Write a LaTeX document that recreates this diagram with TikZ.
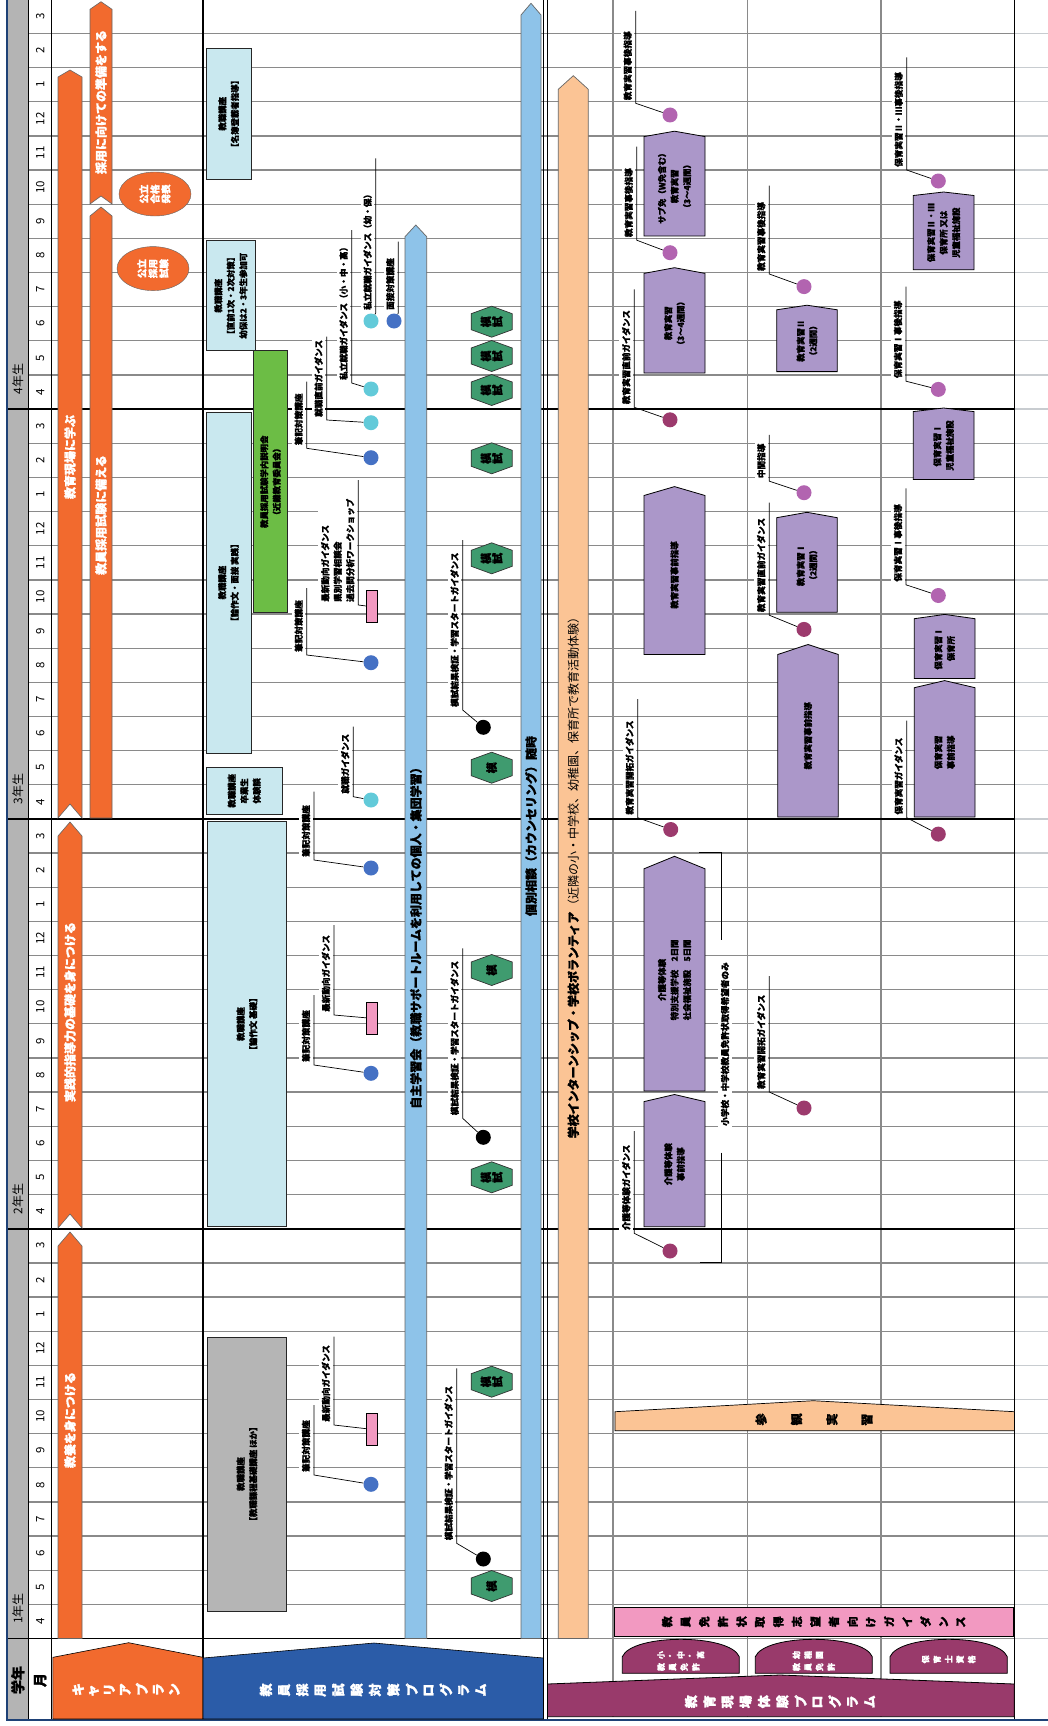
\documentclass[tikz,border=0pt]{standalone}
\usepackage{fontspec}
\setmainfont{Noto Sans CJK JP}[BoldFeatures={FakeBold=1.3}]
\usepackage{graphicx}
\usetikzlibrary{calc,shapes.geometric}

\definecolor{careerorange}{HTML}{F26A2E}
\definecolor{adoptblue}{HTML}{2B5CA8}
\definecolor{expmagenta}{HTML}{993A6B}
\definecolor{barblue}{HTML}{8EC3E9}
\definecolor{peach}{HTML}{FBC495}
\definecolor{boxcyan}{HTML}{C9E8EF}
\definecolor{boxgray}{HTML}{B5B5B5}
\definecolor{lecgreen}{HTML}{6CBD45}
\definecolor{hexgreen}{HTML}{3F9B6F}
\definecolor{lavender}{HTML}{AB97C9}
\definecolor{dotblue}{HTML}{4571C4}
\definecolor{dotcyan}{HTML}{62CAD9}
\definecolor{dotpurple}{HTML}{B264B0}
\definecolor{dotdark}{HTML}{9C3A6D}
\definecolor{tagpink}{HTML}{F299C1}
\definecolor{gridgray}{HTML}{8A8A8A}
\definecolor{gridpale}{HTML}{C8CCD0}
\definecolor{yeargray}{HTML}{B4B4B4}

% vertical writing: one glyph after another, each turned
\newdimen\tatesep
\newcommand\tate[2][0pt]{\tatesep=#1\relax\tateloop#2\relax}
\def\tateloop#1{\ifx\relax#1\kern-\tatesep\else\rotatebox[origin=c]{90}{#1}\kern\tatesep\expandafter\tateloop\fi}

% label with a leader line down to its dot
\newcommand\callout[6]{%
  \coordinate (#1t) at (#2,#3);
  \coordinate (#1b) at (#2,#4);
  \node[lbl, anchor=south west] (#1) at ($(#1b)+(-1.2,-2)$) {#6};
  \draw[leader] (#1t) -- (#1b) -- (#5);
}
% box with a pointed top
\newcommand\housebox[8]{%
  \draw[#2] (#3,#7) -- (#3,#6) -- ({(#3+#4)/2},#5) -- (#4,#6) -- (#4,#7) -- cycle;
  \node[boxtxt] (#1) at ({(#3+#4)/2},{(#6+#7)/2}) {#8};
}
% mock exam hexagon
\newcommand\mohex[4]{%
  \draw[hexmo] (#2,#3) ++(0,-15.5) -- ++(20.5,7.5) -- ++(0,16) -- ++(-20.5,7.5) -- ++(-20.5,-7.5) -- ++(0,-16) -- cycle;
  \node[hextxt] (#1) at (#2,#3) {\tate[1pt]{#4}};
}

\tikzset{
  gridln/.style={gridgray, line width=1.3pt},
  gridext/.style={gridpale, line width=1.3pt},
  yearln/.style={black, line width=1.6pt},
  border/.style={black, line width=1.1pt},
  lbl/.style={rotate=90, fill=white, inner xsep=1pt, inner ysep=2.5pt, align=left, font=\fontsize{8.6}{12.5}\selectfont\bfseries},
  leader/.style={black, line width=0.7pt},
  dot/.style={circle, minimum size=15pt, inner sep=0pt},
  tag/.style={draw=black, line width=0.6pt, fill=tagpink, minimum width=11pt, minimum height=32pt, inner sep=0pt},
  lecbox/.style={draw=black!85, line width=0.8pt, fill=boxcyan},
  boxtxt/.style={rotate=90, align=center, font=\fontsize{8.4}{12.5}\selectfont\bfseries},
  houseshape/.style={draw=black, line width=0.8pt, fill=lavender},
  hexmo/.style={draw=black!80, line width=0.7pt, fill=hexgreen},
  hextxt/.style={font=\fontsize{11}{12}\selectfont\bfseries},
  careerbar/.style={draw=black!60, line width=0.6pt, fill=careerorange},
  careertxt/.style={rotate=90, text=white, font=\fontsize{12}{14}\selectfont\bfseries},
  longbar/.style={draw=black!60, line width=0.7pt},
  bartxt/.style={rotate=90, font=\fontsize{12}{14}\selectfont\bfseries},
  oval/.style={ellipse, draw=black!60, fill=careerorange, minimum width=44pt, minimum height=72pt, inner sep=0pt, rotate=90, align=center, text=white, font=\fontsize{9.5}{11}\selectfont\bfseries},
  monthlbl/.style={rotate=90, font=\fontsize{11.5}{12}\selectfont},
  headtxt/.style={font=\fontsize{13}{13}\selectfont\bfseries, text=white},
  domeshape/.style={draw=black, line width=0.8pt, fill=expmagenta},
  dometxt/.style={align=left, text=white, font=\fontsize{8}{12}\selectfont\bfseries}
}

\begin{document}
\begin{tikzpicture}[x=1pt,y=-1pt]
%%%%% START %%%%%
\useasboundingbox (0,0) rectangle (1048,1726);
\fill[white] (0,0) rectangle (1048,1726);

\fill[yeargray] (7,0) rectangle (28.6,1719);
\foreach \k in {1,...,47}{
  \draw[gridln] (28.6,{1638.5-34.15*\k}) -- (1014.5,{1638.5-34.15*\k});
  \draw[gridext] (1014.5,{1638.5-34.15*\k}) -- (1048,{1638.5-34.15*\k});
}
\foreach \gx in {613,747.3,881}{
  \draw[gridln] (\gx,0) -- (\gx,1717);
}
\draw[gridln] (547,1638.5) -- (1014.5,1638.5);
\draw[gridext] (1014.5,1638.5) -- (1048,1638.5);
\draw[yearln] (7,1638.5) -- (547,1638.5);
\foreach \k in {12,24,36}{
  \draw[yearln] (7,{1638.5-34.15*\k}) -- (1014.5,{1638.5-34.15*\k});
  \draw[gridext] (1014.5,{1638.5-34.15*\k}) -- (1048,{1638.5-34.15*\k});
}

\foreach \k in {0,...,47}{
  \pgfmathtruncatemacro\mon{mod(\k+3,12)+1}
  \node[monthlbl] (m\k) at (40.2,{1638.5-34.15*(\k+0.5)}) {\mon};
}
\foreach \yr in {1,...,4}{
  \node[monthlbl, font=\fontsize{12}{12}\selectfont] (yr\yr) at (17.8,{1638.5-34.15*12*(\yr-1)-30}) {\yr 年生};
}
\node[monthlbl, font=\fontsize{14}{14}\selectfont\bfseries] (hyear) at (17.8,1680) {学年};
\node[monthlbl, font=\fontsize{14}{14}\selectfont\bfseries] (hmonth) at (40.2,1680) {月};

\draw[border] (28.6,0) -- (28.6,1719);
\draw[border] (51.8,0) -- (51.8,1719);
\draw[border] (203,0) -- (203,1719);
\draw[border] (543.5,0) -- (543.5,1719);
\draw[border] (547.5,0) -- (547.5,1719);
\draw[border] (1014.5,0) -- (1014.5,1719);
\draw[line width=1.4pt, adoptblue!70!black] (7,0) -- (7,1720) -- (1048,1720);

% career plan
\draw[careerbar] (58,1638.5) -- (58,1246) -- (70,1232) -- (82,1246) -- (82,1638.5) -- cycle;
\draw[careerbar] (58,1228) -- (58,836) -- (70,822) -- (82,836) -- (82,1228) -- (70,1214) -- cycle;
\draw[careerbar] (58,818) -- (58,77) -- (70,70) -- (82,77) -- (82,818) -- (70,804) -- cycle;
\draw[careerbar] (90,818) -- (90,216) -- (101,207) -- (112,216) -- (112,818) -- cycle;
\draw[careerbar] (90,204) -- (90,9.3) -- (101,1.7) -- (112,9.3) -- (112,204) -- (101,196) -- cycle;
\node[careertxt] (cp1) at (70,1420) {教養を身につける};
\node[careertxt] (cp2) at (70,1012) {実践的指導力の基礎を身につける};
\node[careertxt] (cp3) at (70,457) {教育現場に学ぶ};
\node[careertxt] (cp4) at (101,515) {教員採用試験に備える};
\node[careertxt] (cp5) at (101,102) {採用に向けての準備をする};
\node[oval] (exam) at (153,268.6) {公立\\採用\\試験};
\node[oval] (result) at (155,194) {公立\\合格\\発表};

% adoption exam program
\draw[longbar, fill=barblue] (405,1638.5) -- (405,236.7) -- (415.8,225) -- (426.7,236.7) -- (426.7,1638.5) -- cycle;
\draw[longbar, fill=barblue] (521,1638.5) -- (521,15) -- (531,3.3) -- (541,15) -- (541,1638.5) -- cycle;
\node[bartxt] (selfstudy) at (415.8,935) {自主学習会（教職サポートルームを利用しての個人・集団学習）};
\node[bartxt] (counsel) at (531,826) {個別相談（カウンセリング）随時};

\draw[lecbox] (206.4,48.3) rectangle (251,179.3);
\node[boxtxt] (lec1) at (228.7,113.8) {教職講座\\【名簿登載者指導】};
\draw[lecbox] (206,240.7) rectangle (255.7,350.7);
\node[boxtxt] (lec2) at (230.8,295.7) {教職講座\\【直前1次・2次対策】\\幼保は2・3年生参加可};
\draw[lecbox, fill=lecgreen] (253.3,350.7) rectangle (287.7,612.7);
\node[boxtxt] (lec3) at (270.5,481.7) {教員採用試験学内説明会\\（近畿教育委員会）};
\draw[lecbox] (206,412) rectangle (251,753.3);
\node[boxtxt] (lec4) at (228.5,582.6) {教職講座\\【論作文・面接 実践】};
\draw[lecbox] (206,767.3) rectangle (282.7,814.3);
\node[boxtxt] (lec5) at (244.3,790.8) {教職講座\\卒業生\\体験談};
\draw[lecbox] (207.3,821.7) rectangle (286.7,1226);
\node[boxtxt] (lec6) at (247,1024) {教職講座\\【論作文 基礎】};
\draw[lecbox, fill=boxgray] (207.3,1337.3) rectangle (286.7,1611);
\node[boxtxt] (lec7) at (247,1474) {教職講座\\【教職課程基礎講座 ほか】};

\mohex{h1}{491.7}{321.7}{模試}
\mohex{h2}{491.7}{356}{模試}
\mohex{h3}{491.7}{390}{模試}
\mohex{h4}{491.7}{458.3}{模試}
\mohex{h5}{491.7}{558.3}{模試}
\mohex{h6}{491.7}{767.7}{模}
\mohex{h7}{491.7}{970}{模}
\mohex{h8}{491.7}{1177.3}{模試}
\mohex{h9}{491.7}{1381.7}{模試}
\mohex{h10}{491.7}{1586}{模}

\node[dot, fill=dotcyan] (a1) at (371,321) {};
\node[dot, fill=dotblue] (a2) at (394,321) {};
\node[dot, fill=dotcyan] (a3) at (371,389) {};
\node[dot, fill=dotcyan] (a4) at (371,422.7) {};
\node[dot, fill=dotblue] (a5) at (371,457.7) {};
\node[tag] (a6) at (371.7,606.7) {};
\node[dot, fill=dotblue] (a7) at (371,662.7) {};
\node[dot, fill=black] (a8) at (483.3,727.3) {};
\node[dot, fill=dotcyan] (a9) at (371,800) {};
\node[dot, fill=dotblue] (a10) at (371,868) {};
\node[tag] (a11) at (371.7,1018.3) {};
\node[dot, fill=dotblue] (a12) at (371,1073.3) {};
\node[dot, fill=black] (a13) at (483.3,1137.3) {};
\node[tag] (a14) at (371.7,1429.3) {};
\node[dot, fill=dotblue] (a15) at (371,1484.3) {};
\node[dot, fill=black] (a16) at (483.3,1559) {};

\callout{ca1}{375.7}{158.3}{313}{a1}{私立就職ガイダンス（幼・保）}
\callout{ca2}{398.3}{241.7}{313}{a2}{面接対策講座}
\callout{ca3}{351.7}{230}{383}{a3}{私立就職ガイダンス（小・中・高）}
\callout{ca4}{326.7}{336.7}{420}{a4}{就職直前ガイダンス}
\callout{ca5}{306.7}{381.7}{448.3}{a5}{筆記対策講座}
\callout{ca6}{358.3}{480}{605}{a6}{最新動向ガイダンス\\県別学習相談会\\過去問分析ワークショップ}
\callout{ca7}{306.7}{588}{655}{a7}{筆記対策講座}
\callout{ca8}{462.7}{540}{710}{a8}{模試結果検証・学習スタートガイダンス}
\callout{ca9}{353.3}{726.7}{796.7}{a9}{就職ガイダンス}
\callout{ca10}{314}{791.7}{860}{a10}{筆記対策講座}
\callout{ca11}{334}{925}{1015}{a11}{最新動向ガイダンス}
\callout{ca12}{314}{995}{1065}{a12}{筆記対策講座}
\callout{ca13}{462.7}{948.3}{1118.3}{a13}{模試結果検証・学習スタートガイダンス}
\callout{ca14}{334}{1336.7}{1425}{a14}{最新動向ガイダンス}
\callout{ca15}{314}{1405}{1475}{a15}{筆記対策講座}
\callout{ca16}{456.7}{1368.3}{1543.3}{a16}{模試結果検証・学習スタートガイダンス}

% field experience program
\draw[longbar, fill=peach] (558.3,1638.5) -- (558.3,89.3) -- (573.3,75.7) -- (588.3,89.3) -- (588.3,1638.5) -- cycle;
\node[bartxt] (intern) at (573.3,875) {学校インターンシップ・学校ボランティア{\mdseries（近隣の小・中学校、幼稚園、保育所で教育活動体験）}};

\housebox{b1}{houseshape}{644}{705}{131.2}{136.6}{235.9}{サブ免（W免含む）\\教育実習\\（3〜4週間）}
\housebox{b2}{houseshape}{644}{705}{267.7}{273.4}{373}{教育実習\\（3〜4週間）}
\housebox{b3}{houseshape}{644}{705}{486.6}{495.5}{654.5}{教育実習事前指導}
\housebox{b4}{houseshape}{644}{705}{856.3}{868.8}{1090.9}{介護等体験\\特別支援学校　2日間\\社会福祉施設　5日間}
\housebox{b5}{houseshape}{644}{705}{1094.5}{1101.6}{1226.7}{介護等体験\\事前指導}
\housebox{b6}{houseshape}{776.7}{837.3}{305.2}{309.8}{371.6}{教育実習Ⅱ\\（2週間）}
\housebox{b7}{houseshape}{776.7}{837.3}{512.3}{517.7}{612.3}{教育実習Ⅰ\\（2週間）}
\housebox{b8}{houseshape}{777.7}{838.3}{644.5}{654.5}{817}{教育実習事前指導}
\housebox{b9}{houseshape}{913.3}{974}{192}{195.5}{269.8}{保育実習Ⅱ・Ⅲ\\保育所 又は\\児童福祉施設}
\housebox{b10}{houseshape}{913.3}{974}{408}{411.6}{479.4}{保育実習Ⅰ\\児童福祉施設}
\housebox{b11}{houseshape}{914.3}{975}{614.4}{618.7}{678.4}{保育実習Ⅰ\\保育所}
\housebox{b12}{houseshape}{914.3}{975}{680.6}{687.7}{817}{保育実習\\事前指導}

\node[dot, fill=dotpurple] (e1) at (670,115) {};
\node[dot, fill=dotpurple] (e2) at (670,252.7) {};
\node[dot, fill=dotdark] (e3) at (670,419.8) {};
\node[dot, fill=dotdark] (e4) at (670.7,829.5) {};
\node[dot, fill=dotdark] (e5) at (670,1251) {};
\node[dot, fill=dotpurple] (e6) at (804,286.6) {};
\node[dot, fill=dotpurple] (e7) at (804,492.7) {};
\node[dot, fill=dotdark] (e8) at (804,629.4) {};
\node[dot, fill=dotdark] (e9) at (804,1108) {};
\node[dot, fill=dotpurple] (e10) at (938.3,181) {};
\node[dot, fill=dotpurple] (e11) at (938.3,389.4) {};
\node[dot, fill=dotpurple] (e12) at (938.3,595.5) {};
\node[dot, fill=dotdark] (e13) at (938.3,834.1) {};

\callout{ce1}{635.7}{11}{103.3}{e1}{教育実習事後指導}
\callout{ce2}{636.7}{146.6}{240.2}{e2}{教育実習事後指導}
\callout{ce3}{634.3}{289.4}{407.3}{e3}{教育実習直前ガイダンス}
\callout{ce4}{637.7}{699}{817.7}{e4}{教育実習開拓ガイダンス}
\callout{ce5}{634.3}{1131}{1233.3}{e5}{介護等体験ガイダンス}
\callout{ce6}{769.3}{185.5}{274}{e6}{教育実習事後指導}
\callout{ce7}{769.3}{434.8}{481.2}{e7}{中間指導}
\callout{ce8}{769.3}{502.7}{615.2}{e8}{教育実習直前ガイダンス}
\callout{ce9}{769.3}{976}{1092}{e9}{教育実習開拓ガイダンス}
\callout{ce10}{906.7}{57.3}{170}{e10}{保育実習Ⅱ・Ⅲ事後指導}
\callout{ce11}{906}{286.6}{381.2}{e11}{保育実習Ⅰ事後指導}
\callout{ce12}{906}{488.4}{584.8}{e12}{保育実習Ⅰ事後指導}
\callout{ce13}{906.7}{720.6}{817.7}{e13}{保育実習ガイダンス}

\node[lbl, inner ysep=3pt] (onlynote) at (725,1044) {小学校・中学校教員免許状取得希望者のみ};
\coordinate (bk1) at (699.3,852);
\coordinate (bk2) at (721.7,852);
\coordinate (bk3) at (721.7,940);
\coordinate (bk4) at (721.7,1152.7);
\coordinate (bk5) at (721.7,1262.7);
\coordinate (bk6) at (700,1262.7);
\draw[leader] (bk1) -- (bk2) -- (bk3);
\draw[leader] (bk4) -- (bk5) -- (bk6);

\draw[longbar, draw=black, fill=peach] (615,1430.7) -- (615,1411.7) -- (813.3,1400.7) -- (1014.5,1411.7) -- (1014.5,1430.7) -- cycle;
\node[font=\fontsize{12}{12}\selectfont\bfseries] (visit) at (814,1419.5) {\tate[24pt]{参観実習}};

% header row
\draw[careerbar, draw=black] (52.9,1719) -- (52.9,1657.3) -- (128.6,1642.7) -- (202.9,1657.3) -- (202.9,1719) -- cycle;
\draw[careerbar, draw=black, fill=adoptblue] (203,1719) -- (203,1658) -- (374,1643) -- (543.5,1658) -- (543.5,1719) -- cycle;
\draw[domeshape] (547.5,1716.7) -- (547.5,1684) -- (780,1675) -- (1014.3,1684) -- (1014.3,1716.7) -- cycle;
\node[headtxt] (hcareer) at (126,1690) {\tate[5pt]{キャリアプラン}};
\node[headtxt] (hadopt) at (373,1690) {\tate[6pt]{教員採用試験対策プログラム}};
\node[headtxt] (hexp) at (780,1701.7) {\tate[6pt]{教育現場体験プログラム}};

\draw[domeshape] (622.3,1673.3) -- (622.3,1656.7) .. controls (632,1633.5) and (729.6,1633.5) .. (739.3,1656.7) -- (739.3,1673.3) -- cycle;
\draw[domeshape] (755.3,1673.3) -- (755.3,1656.7) .. controls (765,1633.5) and (862.6,1633.5) .. (872.3,1656.7) -- (872.3,1673.3) -- cycle;
\draw[domeshape] (890,1673.3) -- (890,1656.7) .. controls (899.7,1633.5) and (997.6,1633.5) .. (1007.3,1656.7) -- (1007.3,1673.3) -- cycle;
\node[dometxt] (lic1) at (680.8,1661) {\tate[4pt]{小・中・高}\\\tate[4pt]{教員免許}};
\node[dometxt] (lic2) at (813.8,1661) {\tate[4pt]{幼稚園}\\\tate[4pt]{教員免許}};
\node[dometxt] (lic3) at (948.6,1659.3) {\tate[4pt]{保育士資格}};

\draw[draw=black, line width=0.8pt, fill=tagpink] (614,1607.7) rectangle (1013.3,1636);
\node[font=\fontsize{11}{11}\selectfont\bfseries] (guide) at (813.6,1621.8) {\tate[8.2pt]{教員免許状取得志望者向けガイダンス}};
%%%%% END %%%%%
\end{tikzpicture}
\end{document}
